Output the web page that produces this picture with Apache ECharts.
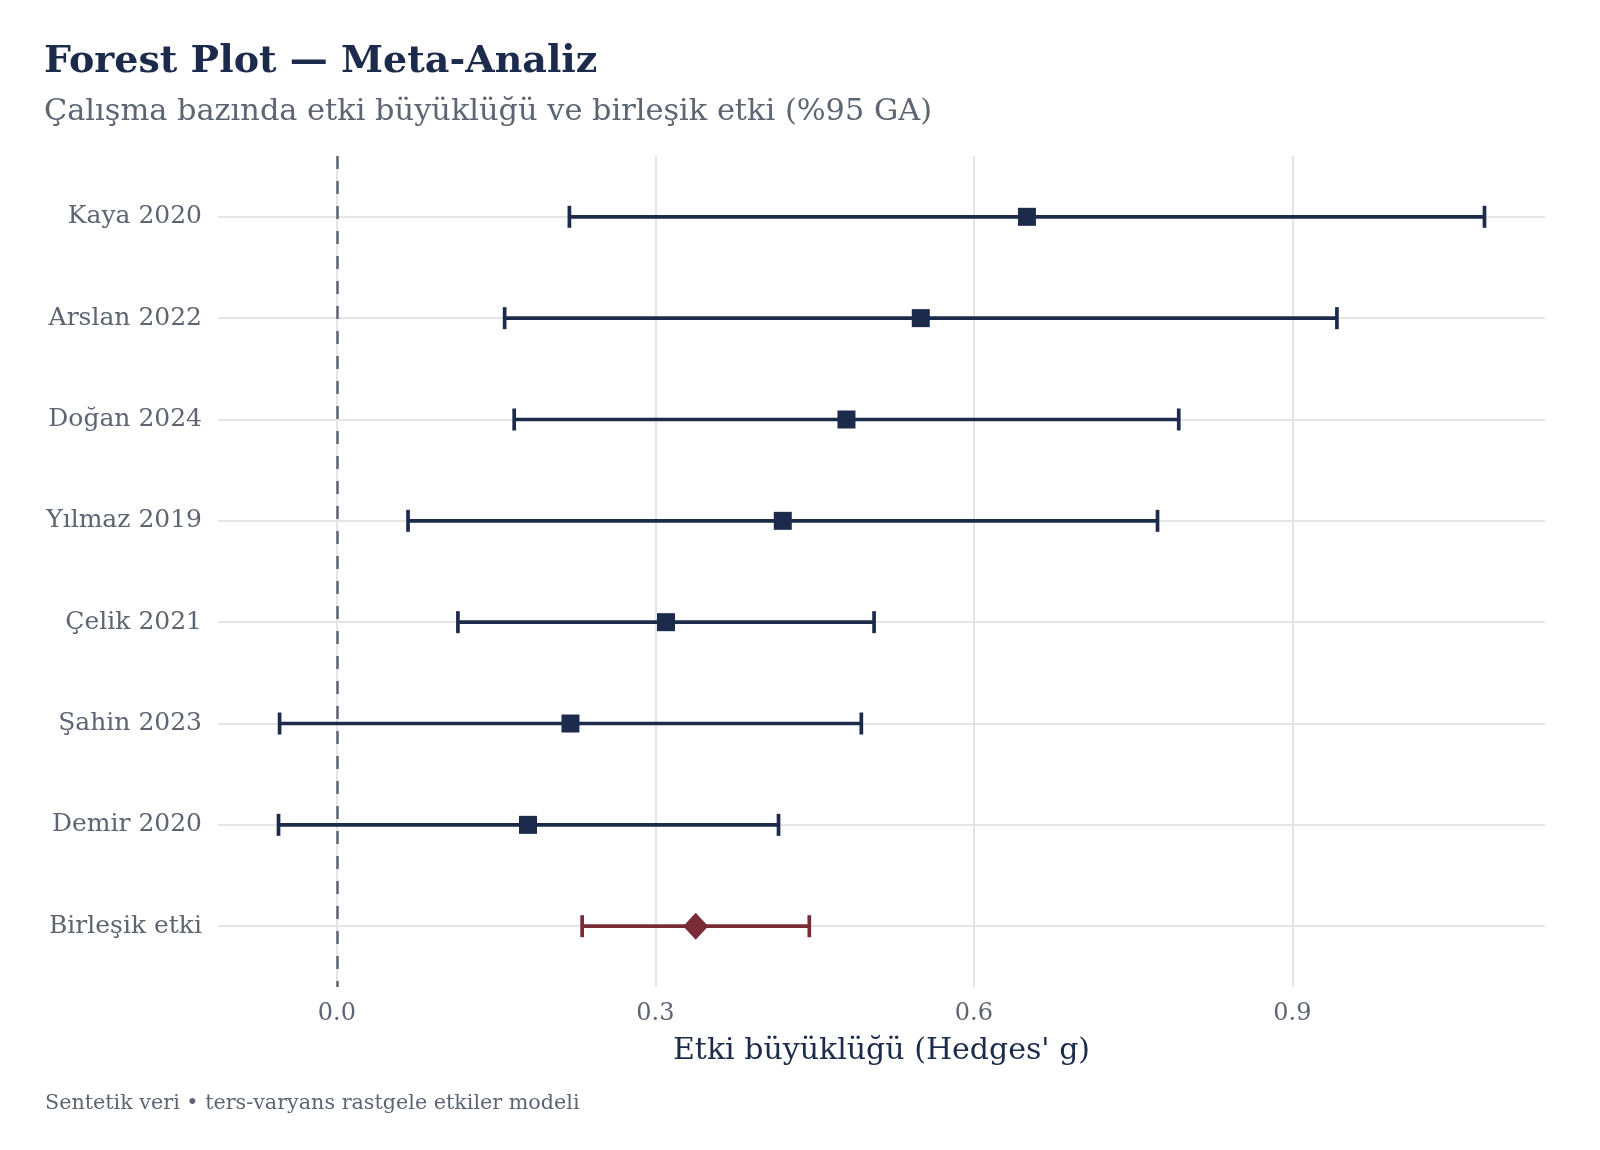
<!DOCTYPE html>
<html>
<head>
<meta charset="utf-8">
<script src="https://cdn.jsdelivr.net/npm/echarts@6/dist/echarts.min.js"></script>
<style>
  html, body { margin: 0; padding: 0; background: #fff; }
  #chart { width: 1600px; height: 1150px; }
</style>
</head>
<body>
<div id="chart"></div>
<script>
// çalışmalar (üstten alta)
const studies = ['Kaya 2020', 'Arslan 2022', 'Doğan 2024', 'Yılmaz 2019', 'Çelik 2021', 'Şahin 2023', 'Demir 2020', 'Birleşik etki'];
const estimates = [0.65, 0.55, 0.48, 0.42, 0.31, 0.22, 0.18, 0.338];
const lowerCI = [0.219, 0.158, 0.167, 0.067, 0.114, -0.054, -0.055, 0.231];
const upperCI = [1.081, 0.942, 0.793, 0.773, 0.506, 0.494, 0.416, 0.445];
const xTicks = [0.0, 0.3, 0.6, 0.9];

const navy = '#1c2b4b';
const wine = '#7a2b38';
const grey = '#5d6472';
const serif = '"DejaVu Serif", serif';
const pooledIdx = studies.length - 1;

const rows = studies.map((s, i) => [i, lowerCI[i], upperCI[i]]);
const points = studies.map((s, i) => ({
    value: [estimates[i], i],
    symbol: i === pooledIdx ? 'diamond' : 'rect',
    symbolSize: i === pooledIdx ? [25, 27] : [18, 18],
    itemStyle: { color: i === pooledIdx ? wine : navy, opacity: 1 }
}));

//hata çubukları
function renderBar(params, api) {
    const y = api.value(0);
    const lo = api.coord([api.value(1), y]);
    const hi = api.coord([api.value(2), y]);
    const color = y === pooledIdx ? wine : navy;
    const cap = 11;
    const st = { stroke: color, lineWidth: 3.7 };
    return {
        type: 'group',
        children: [
            { type: 'line', shape: { x1: lo[0], y1: lo[1], x2: hi[0], y2: hi[1] }, style: st },
            { type: 'line', shape: { x1: lo[0], y1: lo[1] - cap, x2: lo[0], y2: lo[1] + cap }, style: st },
            { type: 'line', shape: { x1: hi[0], y1: hi[1] - cap, x2: hi[0], y2: hi[1] + cap }, style: st }
        ]
    };
}

const chart = echarts.init(document.getElementById('chart'));
chart.setOption({
    backgroundColor: '#fff',
    animation: false,
    title: {
        text: 'Forest Plot — Meta-Analiz',
        subtext: 'Çalışma bazında etki büyüklüğü ve birleşik etki (%95 GA)',
        left: 39,
        top: 38,
        itemGap: 16,
        textStyle: { fontFamily: serif, fontSize: 38, fontWeight: 'bold', color: navy },
        subtextStyle: { fontFamily: serif, fontSize: 30.4, color: grey }
    },
    grid: { left: 218, right: 55, top: 156, bottom: 163 },
    xAxis: {
        type: 'value',
        min: -0.112,
        max: 1.138,
        axisLine: { show: false },
        axisTick: { show: false, customValues: xTicks },
        axisLabel: {
            customValues: xTicks,
            formatter: v => v.toFixed(1),
            fontFamily: serif, fontSize: 24, color: grey, margin: 15
        },
        splitLine: { show: true, lineStyle: { color: '#e5e5e5', width: 2 } },
        name: "Etki büyüklüğü (Hedges' g)",
        nameLocation: 'middle',
        nameGap: 49,
        nameTextStyle: { fontFamily: serif, fontSize: 30, color: navy }
    },
    yAxis: {
        type: 'value',
        inverse: true,
        min: -0.6,
        max: 7.6,
        axisLine: { show: false },
        axisTick: { show: false, customValues: studies.map((s, i) => i) },
        axisLabel: {
            customValues: studies.map((s, i) => i),
            formatter: v => studies[v],
            fontFamily: serif, fontSize: 25, color: grey, margin: 16
        },
        splitLine: { show: true, lineStyle: { color: '#e5e5e5', width: 2 } }
    },
    series: [
        {
            type: 'line',
            data: [],
            z: 1,
            markLine: {
                silent: true,
                symbol: 'none',
                label: { show: false },
                lineStyle: { color: grey, width: 2.5, type: [13, 12] },
                data: [{ xAxis: 0 }]
            }
        },
        {
            type: 'custom',
            z: 2,
            renderItem: renderBar,
            encode: { x: [1, 2], y: 0 },
            data: rows
        },
        {
            type: 'scatter',
            z: 3,
            data: points
        }
    ],
    graphic: [{
        type: 'text',
        left: 45,
        top: 1093,
        style: {
            text: 'Sentetik veri • ters-varyans rastgele etkiler modeli',
            fontFamily: serif, fontSize: 20.7, fill: grey
        }
    }]
});
</script>
</body>
</html>
